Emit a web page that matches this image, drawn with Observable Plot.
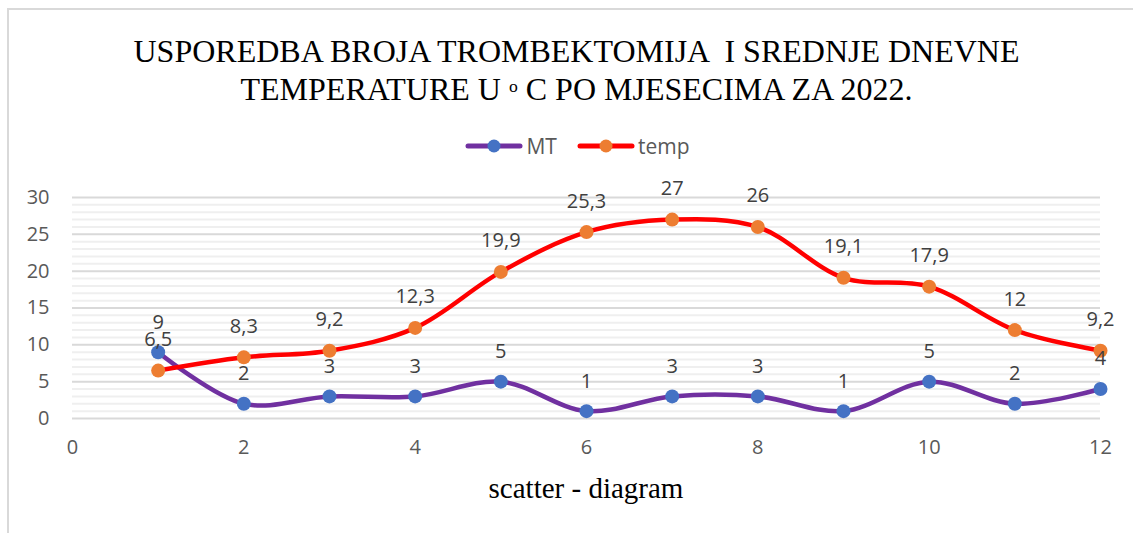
<!DOCTYPE html>
<html><head><meta charset="utf-8">
<script src="https://cdn.jsdelivr.net/npm/d3@7"></script>
<script src="https://cdn.jsdelivr.net/npm/@observablehq/plot@0.6"></script>
<style>
body{margin:0;background:#fff;}
#wrap{position:relative;width:1133px;height:533px;overflow:hidden;background:#fff;}
#frame{position:absolute;left:7px;top:8px;width:1140px;height:540px;border-left:2px solid #d9d9d9;border-top:2px solid #d9d9d9;}
.title{position:absolute;left:0;width:1153px;text-align:center;font-family:"Liberation Serif",serif;font-size:32px;color:#000;line-height:1;white-space:pre;}
#caption{position:absolute;left:0;width:1172px;top:474px;text-align:center;font-family:"Liberation Serif",serif;font-size:29px;color:#000;line-height:1;}
#legend{position:absolute;left:0;top:132px;width:1155px;display:flex;justify-content:center;align-items:center;font-family:"Open Sans",sans-serif;font-size:21px;color:#595959;}
.key{display:flex;align-items:center;margin:0 10px;}
.key svg{margin-right:3px;}
#chart{position:absolute;left:0;top:0;}
</style></head>
<body>
<div id="wrap">
<div id="frame"></div>
<div id="chart"></div>
<div class="title" style="top:35px">USPOREDBA BROJA TROMBEKTOMIJA  I SREDNJE DNEVNE</div>
<div class="title" style="top:73px">TEMPERATURE U <span style="font-size:55%;vertical-align:45%">o</span> C PO MJESECIMA ZA 2022.</div>
<div id="legend"></div>
<div id="caption">scatter - diagram</div>
</div>
<script>
const months = [1,2,3,4,5,6,7,8,9,10,11,12];
const mtValues = [9,2,3,3,5,1,3,3,1,5,2,4];
const tempValues = [6.5,8.3,9.2,12.3,19.9,25.3,27,26,19.1,17.9,12,9.2];
const seriesNames = ["MT","temp"];
const xTicks = [0,2,4,6,8,10,12];
const yTicks = [0,5,10,15,20,25,30];
const minorTicks = [1,2,3,4,6,7,8,9,11,12,13,14,16,17,18,19,21,22,23,24,26,27,28,29];

const lineColors = {MT:"#7030A0", temp:"#FF0000"};
const dotColors = {MT:"#4472C4", temp:"#ED7D31"};

const data = months.map((m,i)=>({m, mt: mtValues[i], temp: tempValues[i]}));
const fmt = v => String(v).replace(".", ",");

const chart = Plot.plot({
  width: 1133, height: 533,
  marginLeft: 72, marginRight: 33, marginTop: 197, marginBottom: 115,
  x: {domain: [0,12]},
  y: {domain: [0,30]},
  style: {fontFamily: "Open Sans", fontSize: "20px", color: "#595959", background: "transparent"},
  marks: [
    Plot.ruleY(minorTicks, {stroke: "#efefef", strokeWidth: 2}),
    Plot.ruleY(yTicks, {stroke: "#d9d9d9", strokeWidth: 2}),
    Plot.axisY({ticks: yTicks, tickSize: 0, tickPadding: 23, label: null, fontSize: 20, fill: "#595959"}),
    Plot.axisX({ticks: xTicks, tickSize: 0, tickPadding: 21, label: null, fontSize: 20, fill: "#595959"}),
    Plot.line(data, {x: "m", y: "mt", stroke: lineColors.MT, strokeWidth: 4.5, curve: "catmull-rom"}),
    Plot.dot(data, {x: "m", y: "mt", fill: dotColors.MT, r: 7}),
    Plot.line(data, {x: "m", y: "temp", stroke: lineColors.temp, strokeWidth: 4.5, curve: "catmull-rom"}),
    Plot.dot(data, {x: "m", y: "temp", fill: dotColors.temp, r: 7}),
    Plot.text(data, {x: "m", y: "mt", text: d => fmt(d.mt), dy: -30, fill: "#404040", fontSize: 20}),
    Plot.text(data, {x: "m", y: "temp", text: d => fmt(d.temp), dy: -31, fill: "#404040", fontSize: 20})
  ]
});
document.getElementById("chart").appendChild(chart);

const legend = document.getElementById("legend");
seriesNames.forEach(name => {
  const k = document.createElement("div");
  k.className = "key";
  k.innerHTML = `<svg width="58" height="16"><line x1="3" y1="8" x2="55" y2="8" stroke="${lineColors[name]}" stroke-width="5" stroke-linecap="round"/><circle cx="29" cy="8" r="6.5" fill="${dotColors[name]}"/></svg><span>${name}</span>`;
  legend.appendChild(k);
});
</script>
</body></html>
